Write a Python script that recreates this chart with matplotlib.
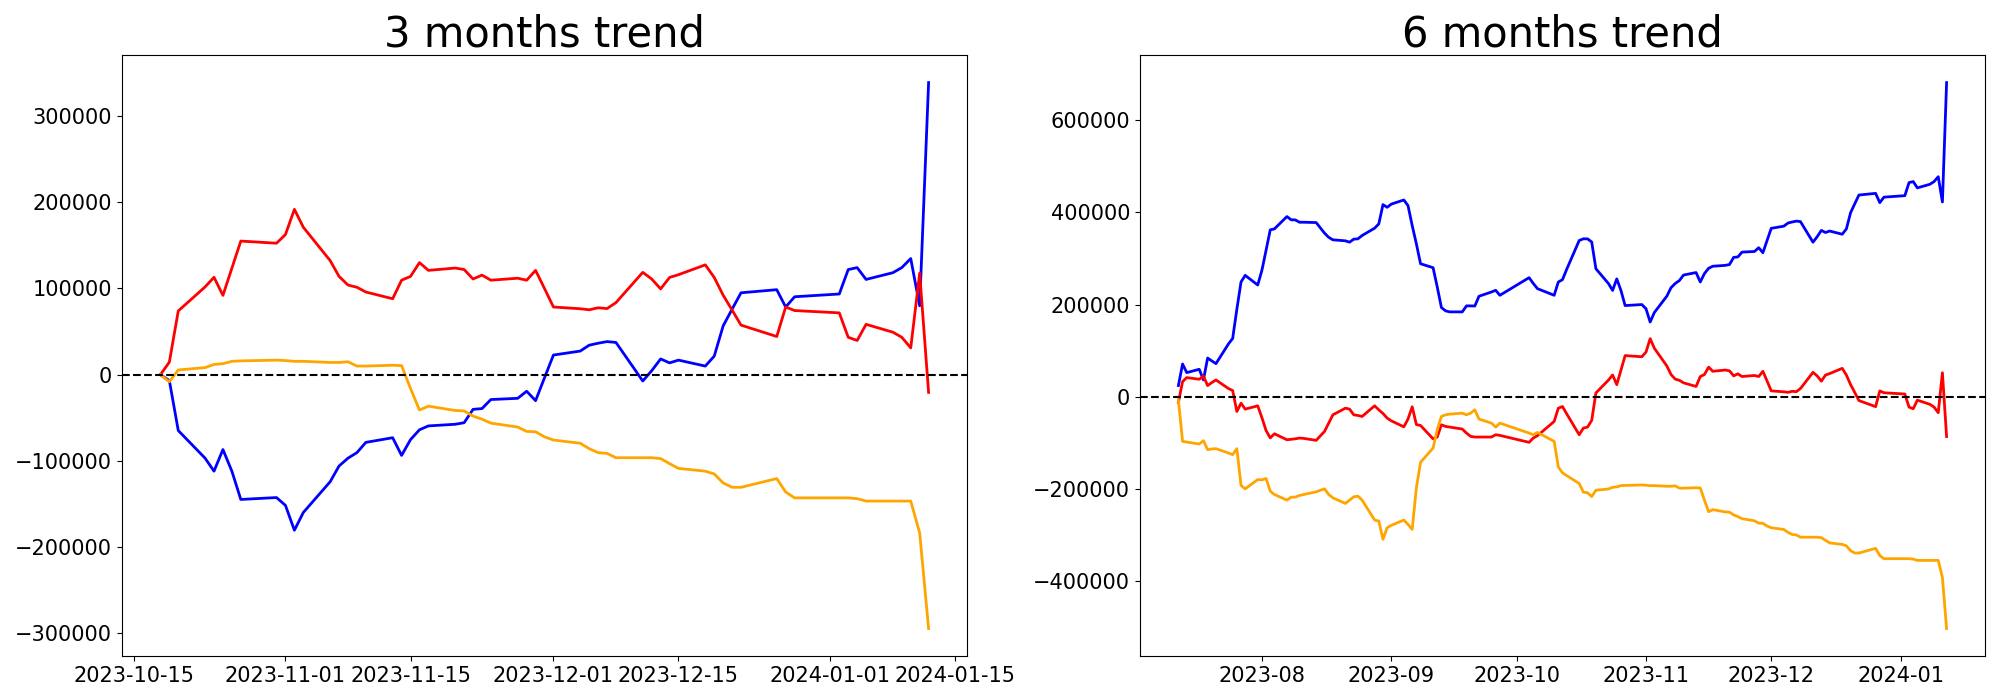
import matplotlib
matplotlib.use("Agg")
import matplotlib.pyplot as plt
import pandas as pd

# ---- 3 months (cumulative since 2023-10-18) ----
dates_3m = ["2023-10-18", "2023-10-19", "2023-10-20", "2023-10-23", "2023-10-24", "2023-10-25",
            "2023-10-26", "2023-10-27", "2023-10-31",
            "2023-11-01", "2023-11-02", "2023-11-03", "2023-11-06", "2023-11-07", "2023-11-08",
            "2023-11-09", "2023-11-10", "2023-11-13", "2023-11-14", "2023-11-15", "2023-11-16",
            "2023-11-17", "2023-11-20", "2023-11-21", "2023-11-22", "2023-11-23", "2023-11-24",
            "2023-11-27", "2023-11-28", "2023-11-29", "2023-11-30",
            "2023-12-01", "2023-12-04", "2023-12-05", "2023-12-06", "2023-12-07", "2023-12-08",
            "2023-12-11", "2023-12-12", "2023-12-13", "2023-12-14", "2023-12-15", "2023-12-18",
            "2023-12-19", "2023-12-20", "2023-12-21", "2023-12-22", "2023-12-26", "2023-12-27",
            "2023-12-28",
            "2024-01-02", "2024-01-03", "2024-01-04", "2024-01-05", "2024-01-08", "2024-01-09",
            "2024-01-10", "2024-01-11", "2024-01-12"]

blue_3m = [0, -6800, -64800, -96800, -111900, -86800, -111900, -144700, -142500,
           -151600, -180400, -159800, -124200, -105900, -96800, -90400, -78500, -73100, -93600,
           -75300, -63900, -59400, -57500, -55700, -40200, -39300, -28800, -27400, -19200,
           -30100, -3600,
           22800, 27400, 34200, 36500, 38400, 37400, -7300, 4600, 18300, 13700, 16900, 10000,
           21500, 56600, 76000, 95000, 98600, 78500, 90400,
           93600, 121900, 124200, 110500, 118300, 124200, 134700, 79900, 338800]

red_3m = [0, 14600, 74000, 101800, 113000, 92000, 123500, 155000, 152500,
          162600, 191800, 171000, 132400, 114000, 104000, 101400, 95900, 88100, 109600,
          114000, 130000, 121000, 123700, 122000, 111000, 115500, 109600, 111900, 109600,
          121000, 100000,
          78500, 76500, 75300, 77600, 76700, 83600, 118700, 111000, 99500, 112800, 116000,
          127400, 112800, 92200, 75000, 57500, 44300, 78500, 74400,
          71700, 43400, 39700, 58400, 49300, 43400, 31100, 117800, -20500]

orange_3m = [0, -8200, 5500, 8200, 11900, 12800, 15500, 16000, 16900,
             16400, 15500, 15500, 14200, 14200, 15000, 10000, 10000, 11000, 10500, -16000,
             -41000, -36500, -41500, -42000, -48000, -51600, -56200, -60700, -65800, -66200,
             -72100,
             -75800, -79500, -85800, -90400, -91300, -96300, -96300, -96300, -97300, -103200,
             -108700, -111900, -115100, -125600, -130600, -130600, -120500, -136100, -142900,
             -142900, -142900, -143800, -146600, -146600, -146600, -146600, -183600, -294500]

# ---- 6 months (cumulative since 2023-07-12) ----
dates_6m_head = ["2023-07-12", "2023-07-13", "2023-07-14", "2023-07-17", "2023-07-18",
                 "2023-07-19", "2023-07-20", "2023-07-21", "2023-07-24", "2023-07-25",
                 "2023-07-26", "2023-07-27", "2023-07-28", "2023-07-31",
                 "2023-08-01", "2023-08-02", "2023-08-03", "2023-08-04", "2023-08-07",
                 "2023-08-08", "2023-08-09", "2023-08-10", "2023-08-11", "2023-08-14",
                 "2023-08-16", "2023-08-17", "2023-08-18", "2023-08-21", "2023-08-22",
                 "2023-08-23", "2023-08-24", "2023-08-25", "2023-08-28", "2023-08-29",
                 "2023-08-30", "2023-08-31",
                 "2023-09-01", "2023-09-04", "2023-09-05", "2023-09-06", "2023-09-07",
                 "2023-09-08", "2023-09-11", "2023-09-12", "2023-09-13", "2023-09-14",
                 "2023-09-15", "2023-09-18", "2023-09-19", "2023-09-20", "2023-09-21",
                 "2023-09-22", "2023-09-25", "2023-09-26", "2023-09-27",
                 "2023-10-04", "2023-10-05", "2023-10-06", "2023-10-10", "2023-10-11",
                 "2023-10-12", "2023-10-13", "2023-10-16", "2023-10-17"]
dates_6m = dates_6m_head + dates_3m

blue_6m = [24500, 71300, 52600, 59800, 36700, 84200, 78000, 72000, 115000, 126700, 190000,
           249100, 263500, 242600,
           274300, 318000, 362200, 364300, 391000, 384000, 383800, 378700, 378700, 378000,
           355000, 346000, 340600, 338400, 335500, 342000, 342700, 349900, 365800, 375100,
           416900, 411100,
           418000, 427000, 414700, 371500, 331900, 288700, 280100, 238300, 193700, 186500,
           184300, 184300, 197300, 197300, 197000, 218200, 227500, 231100, 220300,
           258500, 246000, 234700, 220300, 249100, 254200, 276500, 339100, 342700,
           342700, 335900, 277900, 245900, 230800, 255900, 230800, 198000, 200200,
           191100, 162300, 182900, 218500, 236800, 245900, 252300, 264200, 269600, 249100,
           267400, 278800, 283300, 285200, 287000, 302500, 303400, 313900, 315300, 323500,
           312600, 339100,
           365500, 370100, 376900, 379200, 381100, 380100, 335400, 347300, 361000, 356400,
           359600, 352700, 364200, 399300, 418700, 437700, 441300, 421200, 433100,
           436300, 464600, 466900, 453200, 461000, 466900, 477400, 422600, 681500]

red_6m = [-12000, 33100, 41800, 38200, 45000, 24500, 31000, 36700, 18000, 13700, -31700,
          -13700, -26600, -19400,
          -45000, -73000, -89000, -80000, -93000, -92000, -91000, -89300, -90000, -94300,
          -74900, -57000, -38900, -24500, -26600, -38900, -40300, -42500, -19400, -28100,
          -36000, -46000,
          -52000, -65000, -48000, -21500, -60000, -62000, -91000, -87000, -60500, -64100,
          -65500, -69800, -78500, -85700, -87100, -87100, -87100, -82100, -83500,
          -98600, -89300, -84200, -53300, -24500, -20900, -36700, -82100, -67700,
          -65500, -50900, 8500, 36300, 47500, 26500, 58000, 89500, 87000,
          97100, 126300, 105500, 66900, 48500, 38500, 35900, 30400, 22600, 44100, 48500,
          64500, 55500, 58200, 56500, 45500, 50000, 44100, 46400, 44100, 55500, 34500,
          13000, 11000, 9800, 12100, 11200, 18100, 53200, 45500, 34000, 47300, 50500, 61900,
          47300, 26700, 9500, -8000, -21200, 13000, 8900,
          6200, -22100, -25800, -7100, -16200, -22100, -34400, 52300, -86000]

orange_6m = [-6500, -96500, -98000, -102200, -95000, -114500, -113000, -112300, -121700,
             -125300, -112300, -192200, -199400, -179300,
             -180000, -177000, -204500, -211700, -223900, -217400, -217400, -213800, -211700,
             -205900, -199400, -211700, -218900, -231100, -223900, -216700, -215300, -223900,
             -267100, -269300, -308900, -283700,
             -278600, -267100, -276500, -287300, -197300, -141800, -110900, -71300, -42500,
             -38900, -37400, -35300, -38900, -35300, -28100, -48200, -56900, -65500, -56900,
             -78500, -82100, -77000, -96500, -151900, -164900, -170600, -187900, -206600,
             -208000, -216200, -202500, -199800, -196100, -195200, -192500, -192000, -191100,
             -191600, -192500, -192500, -193800, -193800, -193000, -198000, -198000, -197000,
             -197500, -224000, -249000, -244500, -249500, -250000, -256000, -259600, -264200,
             -268700, -273800, -274200, -280100,
             -283800, -287500, -293800, -298400, -299300, -304300, -304300, -304300, -305300,
             -311200, -316700, -319900, -323100, -333600, -338600, -338600, -328500, -344100,
             -350900,
             -350900, -350900, -351800, -354600, -354600, -354600, -354600, -391600, -502500]

titles = ["3 months trend", "6 months trend"]

fig, axes = plt.subplots(1, 2, figsize=(20, 7))
fig.subplots_adjust(left=0.061, right=0.9925, bottom=0.063, top=0.921, wspace=0.2047)

panels = [(dates_3m, blue_3m, red_3m, orange_3m), (dates_6m, blue_6m, red_6m, orange_6m)]
for ax, title, (d, b, r, o) in zip(axes, titles, panels):
    x = pd.to_datetime(d)
    ax.plot(x, b, color="blue", linewidth=2)
    ax.plot(x, r, color="red", linewidth=2)
    ax.plot(x, o, color="orange", linewidth=2)
    ax.axhline(0, color="black", linestyle="--", linewidth=1.5)
    ax.set_title(title, fontsize=30)
    ax.tick_params(labelsize=15)

fig.savefig("out.png", dpi=100)
